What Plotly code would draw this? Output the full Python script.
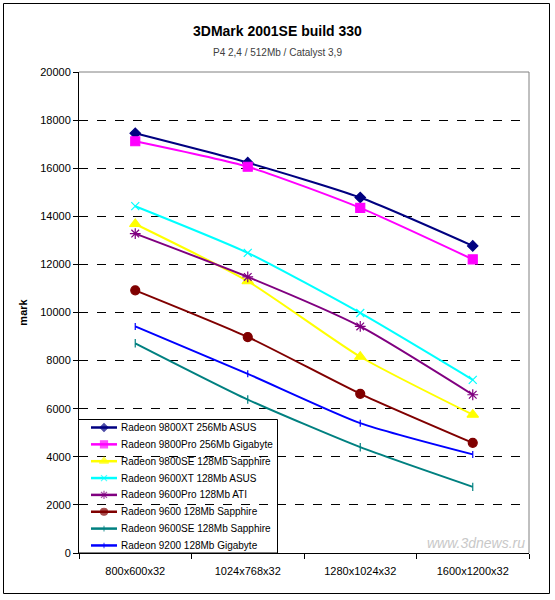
import plotly.graph_objects as go

categories = ["800x600x32", "1024x768x32", "1280x1024x32", "1600x1200x32"]

series_names = [
    "Radeon 9800XT 256Mb ASUS",
    "Radeon 9800Pro 256Mb Gigabyte",
    "Radeon 9800SE 128Mb Sapphire",
    "Radeon 9600XT 128Mb ASUS",
    "Radeon 9600Pro 128Mb ATI",
    "Radeon 9600 128Mb Sapphire",
    "Radeon 9600SE 128Mb Sapphire",
    "Radeon 9200 128Mb Gigabyte",
]

r9800xt = [17450, 16230, 14780, 12770]
r9800pro = [17120, 16060, 14350, 12210]
r9800se = [13680, 11300, 8160, 5750]
r9600xt = [14420, 12480, 9980, 7200]
r9600pro = [13280, 11480, 9420, 6580]
r9600 = [10920, 8980, 6620, 4580]
r9600se = [8720, 6380, 4400, 2750]
r9200 = [9420, 7450, 5400, 4100]

series_values = [r9800xt, r9800pro, r9800se, r9600xt, r9600pro, r9600, r9600se, r9200]
colors = ["#000080", "#FF00FF", "#FFFF00", "#00FFFF", "#800080", "#800000", "#008080", "#0000FF"]
symbols = ["diamond", "square", "triangle-up", "x-thin-open", "asterisk-open", "circle", "line-ns-open", "line-ns-open"]
sizes = [8, 9, 10, 8, 9, 9, 6, 5]

y_ticks = [0, 2000, 4000, 6000, 8000, 10000, 12000, 14000, 16000, 18000, 20000]

W, H = 555, 600
L, R, T, B = 79, 26, 72, 47
pw, ph = W - L - R, H - T - B


def px(x):
    return (x - L) / pw


def py(y):
    return (H - B - y) / ph


fig = go.Figure()
for name, vals, c, s, sz in zip(series_names, series_values, colors, symbols, sizes):
    fig.add_trace(go.Scatter(
        x=categories, y=vals, name=name, mode="lines+markers", showlegend=False,
        line=dict(color=c, width=2, shape="spline", smoothing=0.6),
        marker=dict(symbol=s, size=sz, color=c, line=dict(color=c, width=1.2)),
    ))

# custom legend (compact, like the original), drawn on a pixel-space overlay axis
leg_left, leg_right, leg_top, leg_bottom = 78.5, 277.5, 419.5, 553
row0, row_step = 427.5, 16.85
sample_x0, sample_x1 = 91, 117
text_x = 119

annotations = []
for i, (name, c, s, sz) in enumerate(zip(series_names, colors, symbols, sizes)):
    yr = row0 + i * row_step
    fig.add_trace(go.Scatter(
        x=[sample_x0, (sample_x0 + sample_x1) / 2, sample_x1], y=[yr, yr, yr],
        xaxis="x2", yaxis="y2", mode="lines+markers", showlegend=False, hoverinfo="skip",
        line=dict(color=c, width=2.5),
        marker=dict(symbol=s, size=[0, max(sz - 2, 4), 0], color=c, line=dict(color=c, width=1.2)),
    ))
    annotations.append(dict(
        text=name, xref="paper", yref="paper", x=px(text_x), y=py(yr),
        xanchor="left", yanchor="middle", showarrow=False,
        font=dict(size=10, color="black"),
    ))

annotations += [
    dict(text="<b>3DMark 2001SE build 330</b>", xref="paper", yref="paper",
         x=px(277), y=py(31), showarrow=False, font=dict(size=14, color="black"),
         xanchor="center", yanchor="middle"),
    dict(text="P4 2,4 / 512Mb / Catalyst 3,9", xref="paper", yref="paper",
         x=px(277), y=py(53), showarrow=False, font=dict(size=10, color="#404040"),
         xanchor="center", yanchor="middle"),
    dict(text="<i>www.3dnews.ru</i>", xref="paper", yref="paper",
         x=px(527), y=py(543), showarrow=False, font=dict(size=14, color="#C8C8C8"),
         xanchor="right", yanchor="middle"),
]

fig.update_layout(
    width=W, height=H,
    margin=dict(l=L, r=R, t=T, b=B),
    paper_bgcolor="white", plot_bgcolor="white",
    font=dict(family="Liberation Sans, Arial", size=11, color="black"),
    showlegend=False,
    xaxis=dict(
        type="category", showgrid=False, showline=True, linecolor="black", linewidth=1,
        ticks="outside", tickson="boundaries", ticklen=5, tickcolor="black",
        tickfont=dict(size=11), range=[-0.5, 3.5], ticklabelstandoff=8,
    ),
    yaxis=dict(
        range=[0, 20000], tickvals=y_ticks, tickformat="d", showgrid=True, gridcolor="black",
        griddash="dash", gridwidth=1, showline=True, linecolor="black", linewidth=1,
        ticks="outside", ticklen=5, tickcolor="black", zeroline=False,
        title=dict(text="<b>mark</b>", font=dict(size=11), standoff=10),
        tickfont=dict(size=11),
    ),
    xaxis2=dict(overlaying="x", range=[L, L + pw], visible=False, fixedrange=True),
    yaxis2=dict(overlaying="y", range=[H - B, T], visible=False, fixedrange=True),
    shapes=[
        dict(type="rect", xref="paper", yref="paper", x0=px(leg_left), x1=px(leg_right),
             y0=py(leg_bottom), y1=py(leg_top), line=dict(color="black", width=1),
             fillcolor="white", layer="between"),
        dict(type="line", xref="paper", yref="paper", x0=0, x1=1, y0=1, y1=1,
             line=dict(color="#808080", width=1)),
        dict(type="line", xref="paper", yref="paper", x0=1, x1=1, y0=0, y1=1,
             line=dict(color="#808080", width=1)),
        dict(type="rect", xref="paper", yref="paper", x0=px(3.5), x1=px(549.5),
             y0=py(593.5), y1=py(3.5), line=dict(color="black", width=1)),
    ],
    annotations=annotations,
)

fig.write_html("out.html")
